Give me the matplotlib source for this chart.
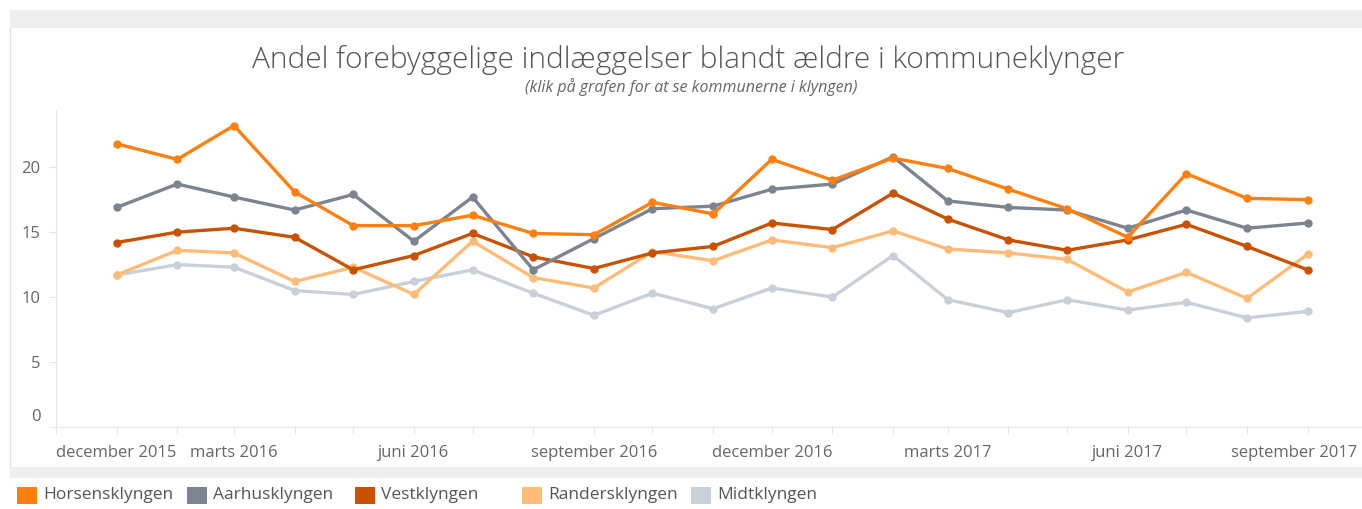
import numpy as np
import pandas as pd
import matplotlib
matplotlib.use("Agg")
import matplotlib.pyplot as plt
import matplotlib.dates as mdates
from matplotlib.patches import Rectangle
import matplotlib.transforms as mtransforms

plt.rcParams['font.family'] = ['Open Sans', 'DejaVu Sans']

#%% data
maaneder = pd.date_range('2016-01-01', periods=21, freq='MS')

horsens = [21.8, 20.6, 23.2, 18.1, 15.5, 15.5, 16.3, 14.9, 14.8, 17.3, 16.4, 20.6,
           19.0, 20.7, 19.9, 18.3, 16.8, 14.6, 19.5, 17.6, 17.5]
aarhus = [16.9, 18.7, 17.7, 16.7, 17.9, 14.3, 17.7, 12.1, 14.5, 16.8, 17.0, 18.3,
          18.7, 20.8, 17.4, 16.9, 16.7, 15.3, 16.7, 15.3, 15.7]
vest = [14.2, 15.0, 15.3, 14.6, 12.1, 13.2, 14.9, 13.1, 12.2, 13.4, 13.9, 15.7,
        15.2, 18.0, 16.0, 14.4, 13.6, 14.4, 15.6, 13.9, 12.1]
randers = [11.7, 13.6, 13.4, 11.2, 12.3, 10.2, 14.3, 11.5, 10.7, 13.5, 12.8, 14.4,
           13.8, 15.1, 13.7, 13.4, 12.9, 10.4, 11.9, 9.9, 13.3]
midt = [11.7, 12.5, 12.3, 10.5, 10.2, 11.2, 12.1, 10.3, 8.6, 10.3, 9.1, 10.7,
        10.0, 13.2, 9.8, 8.8, 9.8, 9.0, 9.6, 8.4, 8.9]

navne = ['Horsensklyngen', 'Aarhusklyngen', 'Vestklyngen', 'Randersklyngen', 'Midtklyngen']
serier = [horsens, aarhus, vest, randers, midt]
farver = ['#FF800E', '#7B848F', '#C85200', '#FFBC79', '#C8D0D9']

tick_datoer = pd.to_datetime(['2015-12-01', '2016-03-01', '2016-06-01', '2016-09-01',
                              '2016-12-01', '2017-03-01', '2017-06-01', '2017-09-01'])
tick_tekster = ['december 2015', 'marts 2016', 'juni 2016', 'september 2016',
                'december 2016', 'marts 2017', 'juni 2017', 'september 2017']

#%% figur
W, H = 1362, 509
fig = plt.figure(figsize=(W / 100, H / 100), dpi=100)

# graa baand som i Tableau
fig.patches.append(Rectangle((10 / W, 1 - 28 / H), 1, 18 / H, transform=fig.transFigure,
                             facecolor='#EFEFEF', edgecolor='none'))
fig.patches.append(Rectangle((10 / W, 1 - 478 / H), 1, 11 / H, transform=fig.transFigure,
                             facecolor='#EFEFEF', edgecolor='none'))
fig.add_artist(plt.Line2D([10 / W, 10 / W], [1 - 467 / H, 1 - 28 / H], transform=fig.transFigure,
                          color='#E4E4E4', lw=1))

ax = fig.add_axes([56 / W, 1 - 427 / H, (W - 56) / W, (427 - 110) / H])

for navn, y, c in reversed(list(zip(navne, serier, farver))):
    ax.plot(maaneder, y, color=c, lw=2.4, marker='o', ms=5, label=navn)

ax.set_xlim(mdates.date2num(pd.Timestamp('2015-12-01')),
            mdates.date2num(pd.Timestamp('2015-12-01')) + (W - 56) / 1.9557)
ax.set_ylim(0, 24.4)

ax.set_yticks([0, 5, 10, 15, 20])
ax.set_yticklabels(['0', '5', '10', '15', '20'])
ax.set_xticks(mdates.date2num(tick_datoer))
ax.set_xticklabels(tick_tekster)
ax.set_xticks(mdates.date2num(pd.date_range('2015-12-01', '2017-09-01', freq='MS')), minor=True)

ax.tick_params(axis='both', which='both', colors='#E6E6E6', labelcolor='#666666',
               labelsize=12, length=5, width=0.8)
ax.tick_params(axis='x', pad=8)
ax.tick_params(axis='y', pad=6)

for s in ['top', 'right']:
    ax.spines[s].set_visible(False)
for s in ['left', 'bottom']:
    ax.spines[s].set_color('#E6E6E6')

xl = ax.get_xticklabels()
xl[0].set_ha('left')
xl[-1].set_transform(xl[-1].get_transform() + mtransforms.ScaledTranslation(-14 / 100, 0, fig.dpi_scale_trans))
yl = ax.get_yticklabels()
yl[0].set_transform(yl[0].get_transform() + mtransforms.ScaledTranslation(0, 12 / 100, fig.dpi_scale_trans))

fig.text(688 / W, 1 - 60 / H, 'Andel forebyggelige indlæggelser blandt ældre i kommuneklynger',
         ha='center', va='center', fontsize=21.5, color='#555555', fontweight='light')
fig.text(691 / W, 1 - 87 / H, '(klik på grafen for at se kommunerne i klyngen)',
         ha='center', va='center', fontsize=11.5, style='italic', color='#666666')

# legende
leg_x = [17, 187, 355, 522, 691]
for x0, navn, c in zip(leg_x, navne, farver):
    fig.patches.append(Rectangle((x0 / W, 1 - 504 / H), 20 / W, 17 / H, transform=fig.transFigure,
                                 facecolor=c, edgecolor='none'))
    fig.text((x0 + 26) / W, 1 - 495 / H, navn, ha='left', va='center', fontsize=12.5, color='#555555')

fig.savefig('out.png', dpi=100)
